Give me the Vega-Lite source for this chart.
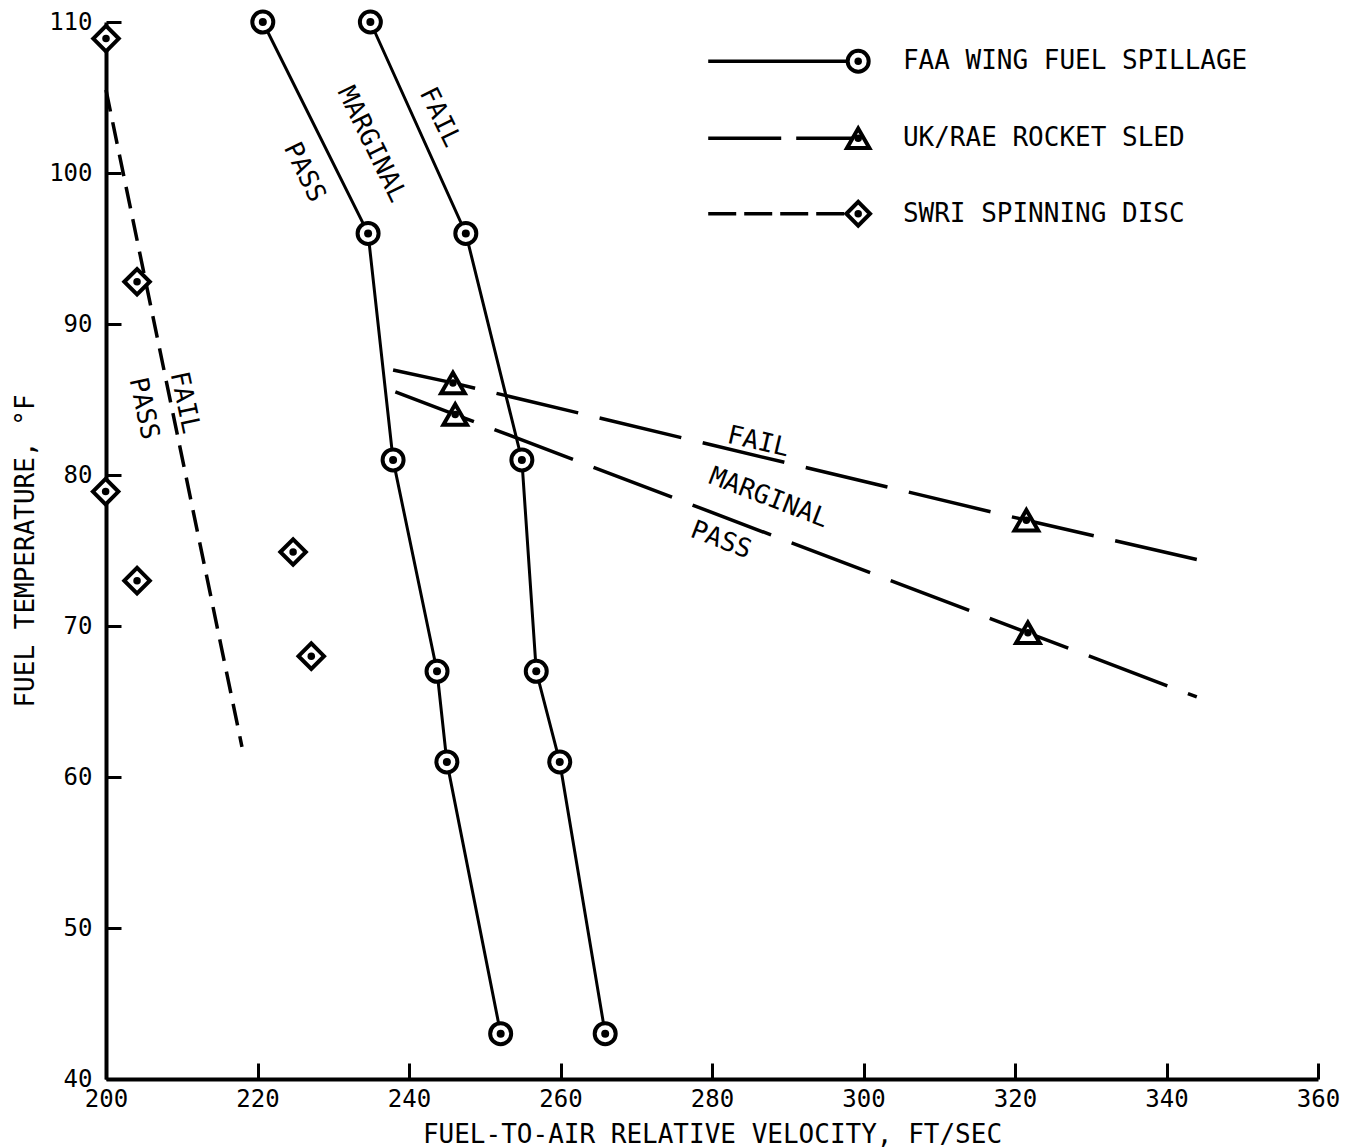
{
  "$schema": "https://vega.github.io/schema/vega-lite/v6.json",
  "width": 1212,
  "height": 1057,
  "autosize": {"type": "none"},
  "padding": {"left": 106, "top": 22, "right": 28, "bottom": 69},
  "background": "white",
  "config": {
    "view": {"stroke": null},
    "font": "DejaVu Sans Mono",
    "text": {"font": "DejaVu Sans Mono", "fontSize": 26, "color": "black"}
  },
  "datasets": {
    "faa": [
      {"curve": "pass-marginal", "x": 220.7, "y": 110},
      {"curve": "pass-marginal", "x": 234.6, "y": 96},
      {"curve": "pass-marginal", "x": 237.9, "y": 81},
      {"curve": "pass-marginal", "x": 243.7, "y": 67},
      {"curve": "pass-marginal", "x": 245.0, "y": 61},
      {"curve": "pass-marginal", "x": 252.1, "y": 43},
      {"curve": "marginal-fail", "x": 234.9, "y": 110},
      {"curve": "marginal-fail", "x": 247.5, "y": 96},
      {"curve": "marginal-fail", "x": 254.9, "y": 81},
      {"curve": "marginal-fail", "x": 256.8, "y": 67},
      {"curve": "marginal-fail", "x": 259.9, "y": 61},
      {"curve": "marginal-fail", "x": 265.9, "y": 43}
    ],
    "uk": [
      {"curve": "marginal-fail", "x": 237.9, "y": 86.95, "test": false},
      {"curve": "marginal-fail", "x": 245.8, "y": 86.1, "test": true},
      {"curve": "marginal-fail", "x": 321.5, "y": 77.0, "test": true},
      {"curve": "marginal-fail", "x": 344.0, "y": 74.4, "test": false},
      {"curve": "pass-marginal", "x": 238.2, "y": 85.5, "test": false},
      {"curve": "pass-marginal", "x": 246.1, "y": 84.0, "test": true},
      {"curve": "pass-marginal", "x": 321.7, "y": 69.55, "test": true},
      {"curve": "pass-marginal", "x": 344.0, "y": 65.3, "test": false}
    ],
    "swriLine": [
      {"x": 200.0, "y": 105.5},
      {"x": 217.95, "y": 62.0}
    ],
    "swriPoints": [
      {"x": 200.0, "y": 108.9},
      {"x": 204.1, "y": 92.8},
      {"x": 199.95, "y": 78.9},
      {"x": 204.1, "y": 73.0},
      {"x": 224.7, "y": 74.9},
      {"x": 227.1, "y": 68.0}
    ],
    "labels": [
      {"group": "faa", "text": "PASS", "x": 226.2, "y": 100.05},
      {"group": "faa", "text": "MARGINAL", "x": 235.1, "y": 101.9},
      {"group": "faa", "text": "FAIL", "x": 244.1, "y": 103.7},
      {"group": "swri", "text": "FAIL", "x": 210.4, "y": 84.8},
      {"group": "swri", "text": "PASS", "x": 205.0, "y": 84.4},
      {"group": "ukfail", "text": "FAIL", "x": 286.1, "y": 82.2},
      {"group": "uklow", "text": "MARGINAL", "x": 287.5, "y": 78.5},
      {"group": "uklow", "text": "PASS", "x": 281.2, "y": 75.7}
    ],
    "legendLines": [
      {"series": "FAA WING FUEL SPILLAGE", "x": 279.5, "y": 107.4},
      {"series": "FAA WING FUEL SPILLAGE", "x": 299.3, "y": 107.4},
      {"series": "UK/RAE ROCKET SLED", "x": 279.5, "y": 102.3},
      {"series": "UK/RAE ROCKET SLED", "x": 299.3, "y": 102.3},
      {"series": "SWRI SPINNING DISC", "x": 279.5, "y": 97.3},
      {"series": "SWRI SPINNING DISC", "x": 299.3, "y": 97.3}
    ],
    "legendItems": [
      {"series": "FAA WING FUEL SPILLAGE", "x": 299.3, "tx": 305.2, "y": 107.4},
      {"series": "UK/RAE ROCKET SLED", "x": 299.3, "tx": 305.2, "y": 102.3},
      {"series": "SWRI SPINNING DISC", "x": 299.3, "tx": 305.2, "y": 97.3}
    ]
  },
  "encoding": {
    "x": {
      "field": "x",
      "type": "quantitative",
      "scale": {"domain": [200, 360], "nice": false, "zero": false},
      "axis": {
        "values": [200, 220, 240, 260, 280, 300, 320, 340, 360],
        "title": "FUEL-TO-AIR RELATIVE VELOCITY, FT/SEC",
        "grid": false,
        "domainColor": "black",
        "domainWidth": 4,
        "tickColor": "black",
        "tickWidth": 3,
        "tickSize": -16,
        "labelPadding": 24,
        "labelFont": "DejaVu Sans Mono",
        "labelFontSize": 24,
        "labelColor": "black",
        "labelFlush": false,
        "labelOverlap": false,
        "titleFont": "DejaVu Sans Mono",
        "titleFontSize": 26,
        "titleFontWeight": "normal",
        "titleColor": "black",
        "titlePadding": 10
      }
    },
    "y": {
      "field": "y",
      "type": "quantitative",
      "scale": {"domain": [40, 110], "nice": false, "zero": false},
      "axis": {
        "values": [40, 50, 60, 70, 80, 90, 100, 110],
        "title": "FUEL TEMPERATURE, °F",
        "grid": false,
        "domainColor": "black",
        "domainWidth": 4,
        "tickColor": "black",
        "tickWidth": 3,
        "tickSize": -15,
        "labelPadding": 29,
        "labelFont": "DejaVu Sans Mono",
        "labelFontSize": 24,
        "labelColor": "black",
        "labelFlush": false,
        "labelOverlap": false,
        "titleFont": "DejaVu Sans Mono",
        "titleFontSize": 26,
        "titleFontWeight": "normal",
        "titleColor": "black",
        "titlePadding": 10
      }
    }
  },
  "layer": [
    {
      "data": {"name": "faa"},
      "mark": {"type": "line", "color": "black", "strokeWidth": 3},
      "encoding": {"detail": {"field": "curve"}}
    },
    {
      "data": {"name": "uk"},
      "mark": {"type": "line", "color": "black", "strokeWidth": 3.5, "strokeDash": [84, 22]},
      "encoding": {"detail": {"field": "curve"}}
    },
    {
      "data": {"name": "swriLine"},
      "mark": {"type": "line", "color": "black", "strokeWidth": 3.5, "strokeDash": [22, 11]},
      "encoding": {}
    },
    {
      "data": {"name": "legendLines"},
      "mark": {"type": "line", "color": "black", "strokeWidth": 3.5},
      "encoding": {
        "detail": {"field": "series"},
        "strokeDash": {
          "field": "series",
          "scale": {"domain": ["FAA WING FUEL SPILLAGE", "UK/RAE ROCKET SLED", "SWRI SPINNING DISC"], "range": [[1, 0], [73, 15], [28, 8]]},
          "legend": null
        }
      }
    },
    {
      "data": {"name": "faa"},
      "mark": {"type": "point", "shape": "circle", "size": 441, "filled": true, "fill": "white", "stroke": "black", "strokeWidth": 4, "opacity": 1}
    },
    {
      "data": {"name": "uk"},
      "transform": [{"filter": "datum.test"}],
      "mark": {"type": "point", "shape": "triangle-up", "size": 560, "filled": true, "fill": "white", "stroke": "black", "strokeWidth": 4, "opacity": 1}
    },
    {
      "data": {"name": "swriPoints"},
      "mark": {"type": "point", "shape": "diamond", "size": 650, "filled": true, "fill": "white", "stroke": "black", "strokeWidth": 4, "opacity": 1}
    },
    {
      "data": {"name": "legendItems"},
      "mark": {"type": "point", "filled": true, "fill": "white", "stroke": "black", "strokeWidth": 4, "opacity": 1},
      "encoding": {
        "shape": {
          "field": "series",
          "scale": {"domain": ["FAA WING FUEL SPILLAGE", "UK/RAE ROCKET SLED", "SWRI SPINNING DISC"], "range": ["circle", "triangle-up", "diamond"]},
          "legend": null
        },
        "size": {
          "field": "series",
          "scale": {"domain": ["FAA WING FUEL SPILLAGE", "UK/RAE ROCKET SLED", "SWRI SPINNING DISC"], "range": [441, 560, 650]},
          "legend": null
        }
      }
    },
    {
      "data": {"name": "faa"},
      "mark": {"type": "circle", "size": 64, "color": "black", "opacity": 1}
    },
    {
      "data": {"name": "uk"},
      "transform": [{"filter": "datum.test"}],
      "mark": {"type": "circle", "size": 56, "color": "black", "opacity": 1}
    },
    {
      "data": {"name": "swriPoints"},
      "mark": {"type": "circle", "size": 56, "color": "black", "opacity": 1}
    },
    {
      "data": {"name": "legendItems"},
      "mark": {"type": "circle", "size": 56, "color": "black", "opacity": 1}
    },
    {
      "data": {"name": "legendItems"},
      "mark": {"type": "text", "align": "left", "baseline": "middle", "fontSize": 26, "color": "black"},
      "encoding": {
        "x": {"field": "tx", "type": "quantitative"},
        "text": {"field": "series"}
      }
    },
    {
      "data": {"name": "labels"},
      "transform": [{"filter": "datum.group === 'faa'"}],
      "mark": {"type": "text", "align": "center", "baseline": "middle", "angle": 64, "fontSize": 26, "color": "black"},
      "encoding": {"text": {"field": "text"}}
    },
    {
      "data": {"name": "labels"},
      "transform": [{"filter": "datum.group === 'swri'"}],
      "mark": {"type": "text", "align": "center", "baseline": "middle", "angle": 78, "fontSize": 26, "color": "black"},
      "encoding": {"text": {"field": "text"}}
    },
    {
      "data": {"name": "labels"},
      "transform": [{"filter": "datum.group === 'ukfail'"}],
      "mark": {"type": "text", "align": "center", "baseline": "middle", "angle": 13, "fontSize": 26, "color": "black"},
      "encoding": {"text": {"field": "text"}}
    },
    {
      "data": {"name": "labels"},
      "transform": [{"filter": "datum.group === 'uklow'"}],
      "mark": {"type": "text", "align": "center", "baseline": "middle", "angle": 21, "fontSize": 26, "color": "black"},
      "encoding": {"text": {"field": "text"}}
    }
  ]
}
